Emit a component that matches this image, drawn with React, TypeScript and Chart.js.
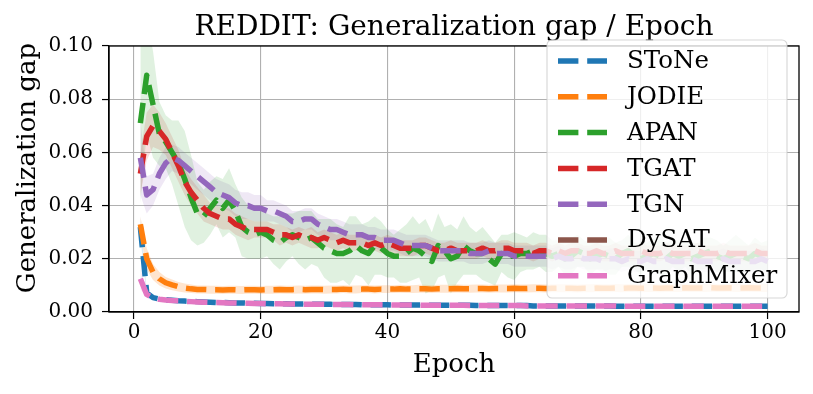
import React, { useEffect, useRef } from "react";
import { Chart, registerables } from "chart.js";
Chart.register(...registerables);

const TITLE = "REDDIT: Generalization gap / Epoch";
const X_LABEL = "Epoch";
const Y_LABEL = "Generalization gap";
const X_TICKS = [0, 20, 40, 60, 80, 100];
const Y_TICKS = [0, 0.02, 0.04, 0.06, 0.08, 0.1];
const EPOCHS = Array.from({ length: 100 }, (_, i) => i + 1);

const NAMES = ["SToNe", "JODIE", "APAN", "TGAT", "TGN", "DySAT", "GraphMixer"];
const COLORS = ["#1f77b4", "#ff7f0e", "#2ca02c", "#d62728", "#9467bd", "#8c564b", "#e377c2"];

const STONE = [
  0.032, 0.0072, 0.0054, 0.0049, 0.0046, 0.0044, 0.0042, 0.0041, 0.004, 0.0039,
  0.0038, 0.0037, 0.0036, 0.0036, 0.0035, 0.0034, 0.0034, 0.0033, 0.0033, 0.0032,
  0.0032, 0.0031, 0.0031, 0.0031, 0.003, 0.003, 0.003, 0.0029, 0.0029, 0.0029,
  0.0029, 0.0028, 0.0028, 0.0028, 0.0028, 0.0027, 0.0027, 0.0027, 0.0027, 0.0027,
  0.0026, 0.0026, 0.0026, 0.0026, 0.0026, 0.0026, 0.0025, 0.0025, 0.0025, 0.0025,
  0.0025, 0.0025, 0.0025, 0.0024, 0.0024, 0.0024, 0.0024, 0.0024, 0.0024, 0.0024,
  0.0024, 0.0024, 0.0023, 0.0023, 0.0023, 0.0023, 0.0023, 0.0023, 0.0023, 0.0023,
  0.0023, 0.0023, 0.0023, 0.0023, 0.0023, 0.0022, 0.0022, 0.0022, 0.0022, 0.0022,
  0.0022, 0.0022, 0.0022, 0.0022, 0.0022, 0.0022, 0.0022, 0.0022, 0.0022, 0.0022,
  0.0022, 0.0022, 0.0022, 0.0022, 0.0022, 0.0022, 0.0022, 0.0022, 0.0022, 0.0022,
];
const STONE_STD = [
  0.004, 0.001, 0.0007, 0.0006, 0.0005, 0.0005, 0.0005, 0.0005, 0.0004, 0.0004,
  0.0004, 0.0004, 0.0004, 0.0004, 0.0004, 0.0004, 0.0004, 0.0004, 0.0004, 0.0004,
  0.0004, 0.0004, 0.0004, 0.0004, 0.0004, 0.0004, 0.0004, 0.0004, 0.0004, 0.0004,
  0.0004, 0.0004, 0.0004, 0.0004, 0.0004, 0.0004, 0.0004, 0.0004, 0.0004, 0.0004,
  0.0004, 0.0004, 0.0004, 0.0004, 0.0004, 0.0004, 0.0004, 0.0004, 0.0004, 0.0004,
  0.0004, 0.0004, 0.0004, 0.0004, 0.0004, 0.0004, 0.0004, 0.0004, 0.0004, 0.0004,
  0.0004, 0.0004, 0.0004, 0.0004, 0.0004, 0.0004, 0.0004, 0.0004, 0.0004, 0.0004,
  0.0004, 0.0004, 0.0004, 0.0004, 0.0004, 0.0004, 0.0004, 0.0004, 0.0004, 0.0004,
  0.0004, 0.0004, 0.0004, 0.0004, 0.0004, 0.0004, 0.0004, 0.0004, 0.0004, 0.0004,
  0.0004, 0.0004, 0.0004, 0.0004, 0.0004, 0.0004, 0.0004, 0.0004, 0.0004, 0.0004,
];

const JODIE = [
  0.033, 0.02, 0.015, 0.0125, 0.011, 0.0102, 0.0095, 0.009, 0.0087, 0.0085,
  0.0085, 0.0084, 0.0084, 0.0083, 0.0084, 0.0084, 0.0083, 0.0084, 0.0084, 0.0083,
  0.0084, 0.0084, 0.0085, 0.0084, 0.0084, 0.0085, 0.0084, 0.0085, 0.0085, 0.0084,
  0.0085, 0.0085, 0.0086, 0.0085, 0.0085, 0.0086, 0.0086, 0.0085, 0.0086, 0.0086,
  0.0086, 0.0087, 0.0086, 0.0086, 0.0087, 0.0087, 0.0086, 0.0087, 0.0087, 0.0087,
  0.0088, 0.0087, 0.0087, 0.0088, 0.0088, 0.0087, 0.0088, 0.0088, 0.0088, 0.0089,
  0.0088, 0.0088, 0.0089, 0.0089, 0.0088, 0.0089, 0.0089, 0.0089, 0.0089, 0.0088,
  0.0089, 0.0089, 0.009, 0.0089, 0.0089, 0.009, 0.0089, 0.009, 0.009, 0.0089,
  0.009, 0.009, 0.0089, 0.009, 0.009, 0.009, 0.0091, 0.009, 0.009, 0.009,
  0.0091, 0.009, 0.009, 0.0091, 0.009, 0.009, 0.0091, 0.009, 0.009, 0.009,
];
const JODIE_STD = [
  0.003, 0.004, 0.003, 0.0025, 0.0022, 0.002, 0.0018, 0.0017, 0.0016, 0.0015,
  0.0015, 0.0015, 0.0015, 0.0015, 0.0015, 0.0015, 0.0015, 0.0015, 0.0015, 0.0015,
  0.0015, 0.0015, 0.0015, 0.0015, 0.0015, 0.0015, 0.0015, 0.0015, 0.0015, 0.0015,
  0.0015, 0.0015, 0.0015, 0.0015, 0.0015, 0.0015, 0.0015, 0.0015, 0.0015, 0.0015,
  0.0015, 0.0015, 0.0015, 0.0015, 0.0015, 0.0015, 0.0015, 0.0015, 0.0015, 0.0015,
  0.0015, 0.0015, 0.0015, 0.0015, 0.0015, 0.0015, 0.0015, 0.0015, 0.0015, 0.0015,
  0.0015, 0.0015, 0.0015, 0.0015, 0.0015, 0.0015, 0.0015, 0.0015, 0.0015, 0.0015,
  0.0015, 0.0015, 0.0015, 0.0015, 0.0015, 0.0015, 0.0015, 0.0015, 0.0015, 0.0015,
  0.0015, 0.0015, 0.0015, 0.0015, 0.0015, 0.0015, 0.0015, 0.0015, 0.0015, 0.0015,
  0.0015, 0.0015, 0.0015, 0.0015, 0.0015, 0.0015, 0.0015, 0.0015, 0.0015, 0.0015,
];

const APAN = [
  0.071, 0.089, 0.078, 0.067, 0.064, 0.06, 0.056, 0.05, 0.043, 0.037,
  0.036, 0.039, 0.042, 0.039, 0.042, 0.038, 0.032, 0.03, 0.029, 0.03,
  0.029, 0.027, 0.026, 0.028, 0.029, 0.028, 0.027, 0.028, 0.026, 0.024,
  0.023, 0.022, 0.022, 0.023, 0.025, 0.023, 0.022, 0.025, 0.024, 0.022,
  0.021, 0.021, 0.022, 0.024, 0.023, 0.021, 0.019, 0.025, 0.023, 0.02,
  0.021, 0.025, 0.023, 0.022, 0.022, 0.02, 0.018, 0.022, 0.021, 0.021,
  0.022, 0.022, 0.023, 0.023, 0.022, 0.021, 0.022, 0.02, 0.021, 0.023,
  0.022, 0.02, 0.021, 0.022, 0.021, 0.02, 0.022, 0.023, 0.021, 0.02,
  0.021, 0.022, 0.021, 0.02, 0.022, 0.021, 0.022, 0.02, 0.021, 0.022,
  0.023, 0.021, 0.02, 0.021, 0.022, 0.021, 0.02, 0.022, 0.021, 0.021,
];
const APAN_STD = [
  0.03, 0.022, 0.02, 0.012, 0.01, 0.012, 0.016, 0.018, 0.016, 0.012,
  0.01, 0.01, 0.009, 0.011, 0.012, 0.01, 0.011, 0.01, 0.009, 0.01,
  0.008, 0.009, 0.01, 0.009, 0.008, 0.01, 0.011, 0.01, 0.009, 0.011,
  0.012, 0.011, 0.01, 0.013, 0.011, 0.01, 0.012, 0.011, 0.01, 0.009,
  0.008, 0.01, 0.011, 0.012, 0.01, 0.014, 0.011, 0.012, 0.009, 0.013,
  0.01, 0.011, 0.009, 0.008, 0.01, 0.009, 0.008, 0.007, 0.008, 0.009,
  0.007, 0.006, 0.007, 0.006, 0.007, 0.006, 0.005, 0.006, 0.007, 0.006,
  0.005, 0.006, 0.005, 0.006, 0.007, 0.006, 0.005, 0.006, 0.005, 0.006,
  0.005, 0.006, 0.007, 0.006, 0.005, 0.006, 0.005, 0.006, 0.005, 0.006,
  0.005, 0.006, 0.005, 0.006, 0.007, 0.006, 0.005, 0.006, 0.005, 0.006,
];

const TGAT = [
  0.052, 0.066, 0.07, 0.068, 0.065, 0.06, 0.055, 0.049, 0.045, 0.042,
  0.039, 0.037, 0.036, 0.035, 0.035, 0.033, 0.032, 0.031, 0.031, 0.031,
  0.031, 0.03, 0.029, 0.029, 0.028, 0.029, 0.028, 0.028, 0.027, 0.028,
  0.027, 0.026, 0.027, 0.026, 0.026, 0.026, 0.025, 0.026, 0.025, 0.026,
  0.025, 0.024, 0.024, 0.024, 0.025, 0.025, 0.024, 0.023, 0.023, 0.024,
  0.023, 0.023, 0.023, 0.023, 0.024, 0.023, 0.023, 0.024, 0.024, 0.023,
  0.023, 0.023, 0.022, 0.023, 0.023, 0.022, 0.023, 0.022, 0.023, 0.023,
  0.022, 0.022, 0.023, 0.022, 0.022, 0.023, 0.022, 0.022, 0.022, 0.023,
  0.022, 0.022, 0.022, 0.023, 0.022, 0.022, 0.022, 0.022, 0.023, 0.022,
  0.022, 0.022, 0.023, 0.022, 0.022, 0.022, 0.022, 0.023, 0.022, 0.022,
];
const TGAT_STD = [
  0.008, 0.009, 0.008, 0.007, 0.006, 0.006, 0.006, 0.005, 0.005, 0.005,
  0.005, 0.004, 0.004, 0.004, 0.004, 0.004, 0.004, 0.004, 0.003, 0.003,
  0.003, 0.003, 0.004, 0.003, 0.003, 0.003, 0.003, 0.004, 0.003, 0.003,
  0.003, 0.003, 0.003, 0.003, 0.003, 0.003, 0.003, 0.003, 0.003, 0.003,
  0.003, 0.003, 0.003, 0.003, 0.003, 0.003, 0.003, 0.003, 0.003, 0.003,
  0.003, 0.003, 0.003, 0.003, 0.003, 0.003, 0.003, 0.003, 0.003, 0.003,
  0.003, 0.003, 0.003, 0.003, 0.003, 0.003, 0.003, 0.003, 0.003, 0.003,
  0.003, 0.003, 0.003, 0.003, 0.003, 0.003, 0.003, 0.003, 0.003, 0.003,
  0.003, 0.003, 0.003, 0.003, 0.003, 0.003, 0.003, 0.003, 0.003, 0.003,
  0.003, 0.003, 0.003, 0.003, 0.003, 0.003, 0.003, 0.003, 0.003, 0.003,
];

const TGN = [
  0.058, 0.044, 0.046, 0.052, 0.056, 0.058, 0.057, 0.055, 0.053, 0.051,
  0.049, 0.047, 0.045, 0.044, 0.043, 0.041, 0.04, 0.04, 0.039, 0.039,
  0.038, 0.038, 0.037, 0.036, 0.034, 0.034, 0.035, 0.035, 0.033, 0.032,
  0.031, 0.031, 0.03, 0.029, 0.029, 0.029, 0.028, 0.028, 0.027, 0.027,
  0.027, 0.026, 0.025, 0.025, 0.025, 0.025, 0.024, 0.023, 0.023, 0.023,
  0.023, 0.023, 0.022, 0.022, 0.022, 0.023, 0.022, 0.022, 0.022, 0.021,
  0.021, 0.021, 0.021, 0.021, 0.021, 0.02, 0.021, 0.02, 0.02, 0.021,
  0.02, 0.02, 0.02, 0.019, 0.02, 0.02, 0.019, 0.02, 0.019, 0.019,
  0.02, 0.019, 0.019, 0.02, 0.019, 0.019, 0.019, 0.02, 0.019, 0.019,
  0.019, 0.019, 0.02, 0.019, 0.019, 0.019, 0.019, 0.019, 0.02, 0.019,
];
const TGN_STD = [
  0.014, 0.007, 0.006, 0.006, 0.006, 0.005, 0.005, 0.005, 0.005, 0.005,
  0.005, 0.005, 0.005, 0.005, 0.005, 0.005, 0.005, 0.005, 0.005, 0.005,
  0.004, 0.004, 0.004, 0.004, 0.004, 0.004, 0.004, 0.004, 0.004, 0.004,
  0.004, 0.004, 0.004, 0.004, 0.004, 0.004, 0.004, 0.004, 0.004, 0.004,
  0.004, 0.004, 0.004, 0.004, 0.004, 0.004, 0.004, 0.004, 0.004, 0.004,
  0.004, 0.004, 0.004, 0.004, 0.004, 0.004, 0.004, 0.004, 0.004, 0.004,
  0.004, 0.004, 0.004, 0.004, 0.004, 0.004, 0.004, 0.004, 0.004, 0.004,
  0.004, 0.004, 0.004, 0.004, 0.004, 0.004, 0.004, 0.004, 0.004, 0.004,
  0.004, 0.004, 0.004, 0.004, 0.004, 0.004, 0.004, 0.004, 0.004, 0.004,
  0.004, 0.004, 0.004, 0.004, 0.004, 0.004, 0.004, 0.004, 0.004, 0.004,
];

const DYSAT: number[] = [];
const DYSAT_STD: number[] = [];

const GRAPHMIXER = [
  0.0125, 0.0066, 0.0053, 0.0048, 0.0045, 0.0043, 0.0042, 0.004, 0.0039, 0.0038,
  0.0037, 0.0036, 0.0036, 0.0035, 0.0034, 0.0034, 0.0033, 0.0033, 0.0032, 0.0032,
  0.0031, 0.0031, 0.0031, 0.003, 0.003, 0.003, 0.0029, 0.0029, 0.0029, 0.0029,
  0.0028, 0.0028, 0.0028, 0.0028, 0.0027, 0.0027, 0.0027, 0.0027, 0.0027, 0.0026,
  0.0026, 0.0026, 0.0026, 0.0026, 0.0026, 0.0025, 0.0025, 0.0025, 0.0025, 0.0025,
  0.0025, 0.0025, 0.0024, 0.0024, 0.0024, 0.0024, 0.0024, 0.0024, 0.0024, 0.0024,
  0.0024, 0.0023, 0.0023, 0.0023, 0.0023, 0.0023, 0.0023, 0.0023, 0.0023, 0.0023,
  0.0023, 0.0023, 0.0023, 0.0023, 0.0023, 0.0023, 0.0022, 0.0022, 0.0022, 0.0022,
  0.0022, 0.0022, 0.0022, 0.0022, 0.0022, 0.0022, 0.0022, 0.0022, 0.0022, 0.0022,
  0.0022, 0.0022, 0.0022, 0.0022, 0.0022, 0.0022, 0.0022, 0.0022, 0.0022, 0.0022,
];
const GRAPHMIXER_STD = STONE_STD;

const MEANS = [STONE, JODIE, APAN, TGAT, TGN, DYSAT, GRAPHMIXER];
const STDS = [STONE_STD, JODIE_STD, APAN_STD, TGAT_STD, TGN_STD, DYSAT_STD, GRAPHMIXER_STD];

const SERIF = "'DejaVu Serif', serif";
const W = 813;
const H = 394;
const LW = 5.5;
const DASH = [20.4, 8.8];

function rgba(hex: string, a: number) {
  const n = parseInt(hex.slice(1), 16);
  return `rgba(${(n >> 16) & 255},${(n >> 8) & 255},${n & 255},${a})`;
}

const overlay = {
  id: "overlay",
  afterDraw(chart: any) {
    const { ctx, chartArea: ca } = chart;
    ctx.save();
    // frame top/right
    ctx.strokeStyle = "#000";
    ctx.lineWidth = 1.3;
    ctx.strokeRect(ca.left, ca.top, ca.right - ca.left, ca.bottom - ca.top);
    // title
    ctx.fillStyle = "#000";
    ctx.textAlign = "center";
    ctx.textBaseline = "alphabetic";
    ctx.font = `28px ${SERIF}`;
    ctx.fillText(TITLE, (ca.left + ca.right) / 2, 35);
    // x label
    ctx.font = `26px ${SERIF}`;
    ctx.fillText(X_LABEL, (ca.left + ca.right) / 2, 372);
    // y label
    ctx.save();
    ctx.translate(35, 168);
    ctx.rotate(-Math.PI / 2);
    ctx.fillText(Y_LABEL, 0, 0);
    ctx.restore();
    // legend
    const lx = 547, ly = 40, lw = 240, lh = 258, r = 5;
    ctx.beginPath();
    ctx.moveTo(lx + r, ly);
    ctx.arcTo(lx + lw, ly, lx + lw, ly + lh, r);
    ctx.arcTo(lx + lw, ly + lh, lx, ly + lh, r);
    ctx.arcTo(lx, ly + lh, lx, ly, r);
    ctx.arcTo(lx, ly, lx + lw, ly, r);
    ctx.closePath();
    ctx.fillStyle = "rgba(255,255,255,0.8)";
    ctx.fill();
    ctx.strokeStyle = "rgba(204,204,204,0.8)";
    ctx.lineWidth = 1.1;
    ctx.stroke();
    ctx.font = `24.5px ${SERIF}`;
    ctx.textAlign = "left";
    ctx.textBaseline = "middle";
    NAMES.forEach((name, i) => {
      const y = 61 + i * 35.8;
      ctx.beginPath();
      ctx.setLineDash(DASH);
      ctx.lineDashOffset = 0;
      ctx.strokeStyle = COLORS[i];
      ctx.lineWidth = LW;
      ctx.lineCap = "butt";
      ctx.moveTo(558, y);
      ctx.lineTo(607, y);
      ctx.stroke();
      ctx.setLineDash([]);
      ctx.fillStyle = "#000";
      ctx.fillText(name, 627, y + 1);
    });
    ctx.restore();
  },
};

export default function App() {
  const ref = useRef<HTMLCanvasElement>(null);
  useEffect(() => {
    const datasets: any[] = [];
    NAMES.forEach((name, i) => {
      const mean = MEANS[i];
      const std = STDS[i];
      if (mean.length === 0) return;
      const lowIdx = datasets.length;
      datasets.push({
        label: name + " low",
        data: mean.map((v, k) => ({ x: EPOCHS[k], y: v - std[k] })),
        borderWidth: 0,
        pointRadius: 0,
        fill: false,
        order: 100,
      });
      datasets.push({
        label: name + " high",
        data: mean.map((v, k) => ({ x: EPOCHS[k], y: v + std[k] })),
        borderWidth: 0,
        pointRadius: 0,
        backgroundColor: rgba(COLORS[i], i === 1 ? 0.2 : 0.15),
        fill: lowIdx,
        order: 100,
      });
    });
    NAMES.forEach((name, i) => {
      const mean = MEANS[i];
      if (mean.length === 0) return;
      datasets.push({
        label: name,
        data: mean.map((v, k) => ({ x: EPOCHS[k], y: v })),
        borderColor: COLORS[i],
        borderWidth: LW,
        borderDash: DASH,
        borderCapStyle: "butt",
        borderJoinStyle: "round",
        pointRadius: 0,
        fill: false,
        tension: 0,
        order: 10 - i,
      });
    });
    const chart = new Chart(ref.current!, {
      type: "line",
      data: { datasets },
      options: {
        animation: false,
        responsive: false,
        events: [],
        layout: { padding: { top: 46, right: 14, left: 0, bottom: 0 } },
        plugins: { legend: { display: false }, tooltip: { enabled: false }, title: { display: false } },
        scales: {
          x: {
            type: "linear",
            min: -3.95,
            max: 104.95,
            afterBuildTicks: (s: any) => {
              s.ticks = X_TICKS.map((v) => ({ value: v }));
            },
            afterFit: (s: any) => {
              s.height = 82;
            },
            grid: { color: "#b0b0b0", lineWidth: 1.1, tickColor: "#000", tickLength: 7, tickWidth: 1.2 },
            border: { display: true, color: "#000", width: 1.3 },
            ticks: {
              color: "#000",
              font: { family: SERIF, size: 20 },
              padding: 2,
              maxRotation: 0,
              callback: (v: any) => String(v),
            },
          },
          y: {
            min: 0,
            max: 0.1,
            afterBuildTicks: (s: any) => {
              s.ticks = Y_TICKS.map((v) => ({ value: v }));
            },
            afterFit: (s: any) => {
              s.width = 109;
            },
            grid: { color: "#b0b0b0", lineWidth: 1.1, tickColor: "#000", tickLength: 7, tickWidth: 1.2 },
            border: { display: true, color: "#000", width: 1.3 },
            ticks: {
              color: "#000",
              font: { family: SERIF, size: 20 },
              padding: 9,
              callback: (v: any) => Number(v).toFixed(2),
            },
          },
        },
      },
      plugins: [overlay],
    });
    return () => chart.destroy();
  }, []);
  return (
    <div style={{ position: "fixed", left: 0, top: 0, width: W, height: H, background: "#fff" }}>
      <canvas ref={ref} width={W} height={H} style={{ width: W, height: H }} />
    </div>
  );
}
